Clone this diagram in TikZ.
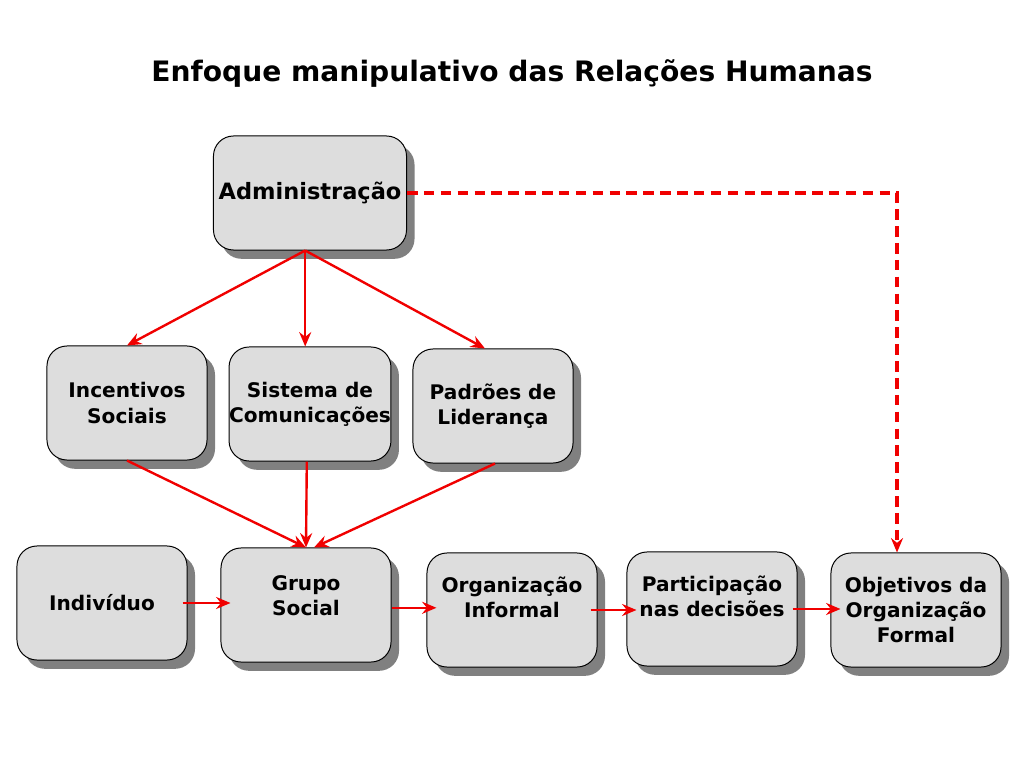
\documentclass[tikz,border=0pt]{standalone}
\usepackage{fontspec}
\setmainfont{DejaVu Sans}
\usetikzlibrary{arrows.meta, positioning, calc, shadows}
\definecolor{BoxGray}{RGB}{221, 221, 221}
\definecolor{ShadowGray}{RGB}{128, 128, 128}
\definecolor{ArrowRed}{RGB}{240, 0, 0}

\begin{document}
\begin{tikzpicture}[x=0.025cm, y=-0.025cm,
    box/.style={rectangle, draw=black, fill=BoxGray, line width=0.7pt, rounded corners=0.5cm, minimum width=4.25cm, minimum height=2.85cm, inner sep=0pt, align=center, font=\bfseries\fontsize{14.3}{17.8}\selectfont, drop shadow={shadow xshift=0.2cm, shadow yshift=-0.22cm, fill=ShadowGray, opacity=1}},
    arrow/.style={-{Stealth[length=0.36cm, width=0.3cm, inset=0.12cm]}, draw=ArrowRed, line width=1.7pt},
    dasharrow/.style={arrow, line width=2.2pt, dash pattern=on 7.5pt off 4.5pt}
]
\useasboundingbox (0,0) rectangle (1024,768);
\node[font=\bfseries\fontsize{20}{24}\selectfont] (title) at (512,73) {Enfoque manipulativo das Relações Humanas};

% top level
\node[box, minimum width=4.825cm, font=\bfseries\fontsize{16}{19}\selectfont] (adm) at (310,193) {Administração};

% middle row
\node[box, minimum width=4cm] (incent) at (127,403) {Incentivos\\Sociais};
\node[box, minimum width=4cm] (sistema) at (310,404) {Sistema de\\Comunicações};
\node[box, minimum width=4cm] (padroes) at (493,406) {Padrões de\\Liderança};

% bottom row
\node[box] (indiv) at (102,603) {Indivíduo};
\node[box] (grupo) at (306,605) {Grupo\\Social\\[-5pt]\mbox{}};
\node[box] (orginf) at (512,610) {Organização\\Informal\\[0pt]\mbox{}};
\node[box] (partic) at (712,609) {Participação\\nas decisões\\[0pt]\mbox{}};
\node[box] (objet) at (916,610) {Objetivos da\\Organização\\Formal};

\coordinate (corner) at (897,0);

\draw[arrow] ([xshift=-0.12cm]adm.south) -- (incent.north);
\draw[arrow] ([xshift=-0.12cm]adm.south) -- ([xshift=-0.12cm]sistema.north);
\draw[arrow] ([xshift=-0.12cm]adm.south) -- ([xshift=-0.2cm]padroes.north);

\draw[arrow] (incent.south) -- (grupo.north);
\draw[arrow] ([xshift=-0.08cm]sistema.south) -- (grupo.north);
\draw[arrow] ([xshift=0.05cm]padroes.south) -- ([xshift=0.2cm]grupo.north);

\draw[arrow] ([xshift=-0.12cm]indiv.east) -- ([xshift=0.25cm]indiv.east -| grupo.west);
\draw[arrow] ([yshift=-0.07cm]grupo.east) -- ([xshift=0.25cm, yshift=-0.07cm]grupo.east -| orginf.west);
\draw[arrow] ([xshift=-0.17cm]orginf.east) -- ([xshift=0.25cm]orginf.east -| partic.west);
\draw[arrow] ([xshift=-0.12cm]partic.east) -- ([xshift=0.25cm]partic.east -| objet.west);

\draw[dasharrow] (adm.east) -- (adm.east -| corner) -- (corner |- objet.north);
\end{tikzpicture}
\end{document}
